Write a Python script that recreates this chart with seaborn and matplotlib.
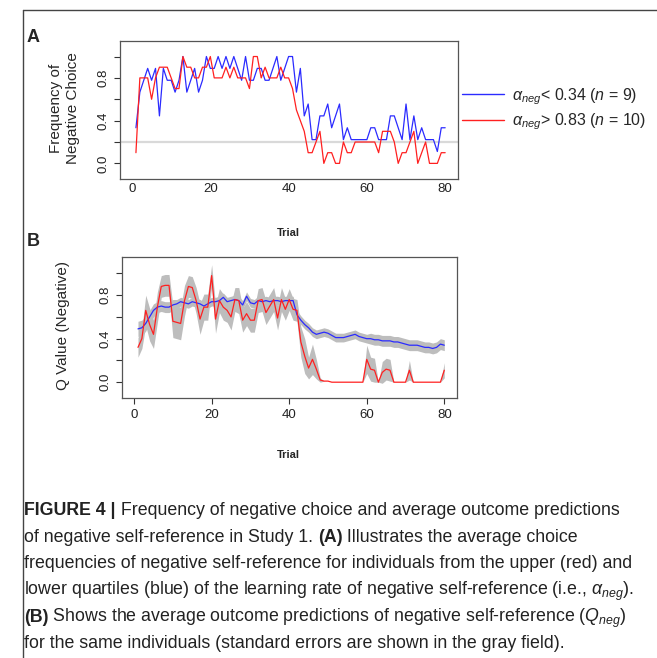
import numpy as np
import pandas as pd
import matplotlib
matplotlib.use("Agg")
import matplotlib.pyplot as plt
from matplotlib.lines import Line2D
import seaborn as sns

# ---- data ----
trials = np.arange(1, 81)

# Panel A: number of participants choosing negative (blue group n=9, red group n=10)
blue_count = [3, 6, 7, 8, 7, 8, 4, 8, 7, 7, 6, 7, 9, 6, 7, 8, 6, 7, 9, 8,
              8, 9, 8, 9, 8, 9, 8, 7, 9, 7, 7, 8, 8, 7, 7, 8, 9, 7, 8, 9,
              9, 6, 8, 4, 5, 2, 2, 4, 4, 5, 3, 4, 5, 2, 3, 2, 2, 2, 2, 2,
              3, 3, 2, 2, 2, 4, 4, 3, 2, 5, 2, 4, 2, 3, 2, 2, 2, 1, 3, 3]
red_count = [1, 8, 8, 8, 6, 8, 9, 9, 9, 8, 7, 7, 10, 9, 9, 8, 8, 9, 9, 10,
             8, 8, 8, 9, 8, 9, 8, 8, 8, 7, 10, 10, 8, 9, 8, 8, 8, 9, 8, 8,
             7, 5, 4, 3, 1, 1, 2, 3, 0, 1, 1, 0, 0, 2, 1, 1, 2, 2, 2, 2,
             2, 2, 1, 3, 3, 3, 2, 0, 1, 1, 2, 3, 0, 1, 2, 0, 0, 0, 1, 1]
n_blue, n_red = 9, 10
chance_level = 0.2

# Panel B: mean Q value and standard error
blue_q = [0.49, 0.50, 0.54, 0.60, 0.66, 0.69, 0.70, 0.69, 0.69, 0.71,
          0.72, 0.74, 0.73, 0.72, 0.74, 0.73, 0.72, 0.70, 0.72, 0.74,
          0.74, 0.75, 0.78, 0.74, 0.75, 0.76, 0.75, 0.71, 0.79, 0.73,
          0.72, 0.75, 0.74, 0.75, 0.74, 0.75, 0.75, 0.74, 0.75, 0.75,
          0.75, 0.62, 0.57, 0.53, 0.50, 0.46, 0.44, 0.45, 0.46, 0.45,
          0.43, 0.41, 0.41, 0.41, 0.42, 0.43, 0.44, 0.42, 0.41, 0.40,
          0.40, 0.39, 0.39, 0.38, 0.38, 0.38, 0.37, 0.37, 0.36, 0.35,
          0.34, 0.34, 0.34, 0.33, 0.32, 0.32, 0.31, 0.32, 0.35, 0.34]
blue_se = [0.07, 0.07, 0.07, 0.06, 0.06, 0.05, 0.05, 0.05, 0.05, 0.05,
           0.04, 0.04, 0.04, 0.04, 0.04, 0.04, 0.04, 0.04, 0.04, 0.04,
           0.04, 0.04, 0.04, 0.04, 0.04, 0.04, 0.04, 0.04, 0.04, 0.04,
           0.04, 0.04, 0.04, 0.04, 0.04, 0.04, 0.04, 0.04, 0.04, 0.04,
           0.04, 0.04, 0.04, 0.04, 0.04, 0.04, 0.04, 0.04, 0.04, 0.04,
           0.04, 0.04, 0.04, 0.04, 0.04, 0.04, 0.04, 0.04, 0.04, 0.04,
           0.05, 0.05, 0.05, 0.05, 0.05, 0.05, 0.05, 0.05, 0.05, 0.05,
           0.05, 0.05, 0.05, 0.05, 0.05, 0.05, 0.05, 0.05, 0.05, 0.05]
red_q = [0.32, 0.40, 0.66, 0.53, 0.44, 0.69, 0.88, 0.89, 0.89, 0.56,
         0.55, 0.54, 0.75, 0.88, 0.87, 0.75, 0.58, 0.69, 0.69, 0.98,
         0.58, 0.75, 0.69, 0.66, 0.60, 0.76, 0.75, 0.57, 0.63, 0.57,
         0.57, 0.75, 0.76, 0.64, 0.70, 0.76, 0.59, 0.76, 0.67, 0.76,
         0.67, 0.66, 0.37, 0.24, 0.13, 0.21, 0.12, 0.02, 0.01, 0.01,
         0.0, 0.0, 0.0, 0.0, 0.0, 0.0, 0.0, 0.0, 0.0, 0.21,
         0.12, 0.11, 0.0, 0.09, 0.12, 0.11, 0.0, 0.0, 0.0, 0.0,
         0.11, 0.0, 0.0, 0.0, 0.0, 0.0, 0.0, 0.0, 0.0, 0.11]
red_se = [0.09, 0.09, 0.14, 0.15, 0.13, 0.14, 0.10, 0.10, 0.10, 0.15,
          0.15, 0.15, 0.14, 0.10, 0.10, 0.12, 0.14, 0.12, 0.12, 0.10,
          0.13, 0.11, 0.12, 0.11, 0.12, 0.11, 0.12, 0.11, 0.11, 0.11,
          0.11, 0.11, 0.11, 0.11, 0.11, 0.11, 0.11, 0.11, 0.10, 0.10,
          0.10, 0.10, 0.14, 0.16, 0.10, 0.14, 0.09, 0.02, 0.0, 0.0,
          0.0, 0.0, 0.0, 0.0, 0.0, 0.0, 0.0, 0.0, 0.0, 0.13,
          0.11, 0.11, 0.0, 0.10, 0.10, 0.10, 0.0, 0.0, 0.0, 0.0,
          0.09, 0.0, 0.0, 0.0, 0.0, 0.0, 0.0, 0.0, 0.0, 0.07]

legend_labels = [r"$\alpha_{neg}$< 0.34 ($n$ = 9)", r"$\alpha_{neg}$> 0.83 ($n$ = 10)"]

caption = [
    [("FIGURE 4 |", "bold"), (" Frequency of negative choice and average outcome predictions", "normal")],
    [("of negative self-reference in Study 1. ", "normal"), ("(A)", "bold"), (" Illustrates the average choice", "normal")],
    [("frequencies of negative self-reference for individuals from the upper (red) and", "normal")],
    [("lower quartiles (blue) of the learning rate of negative self-reference (i.e., $\\alpha_{neg}$).", "normal")],
    [("(B)", "bold"), (" Shows the average outcome predictions of negative self-reference ($Q_{neg}$)", "normal")],
    [("for the same individuals (standard errors are shown in the gray field).", "normal")],
]

BLUE = "#2b2bff"
RED = "#ff2020"
BAND = "#bdbdbd"

W, H = 657, 658
sns.set_style("white")
plt.rcParams["font.family"] = ["Liberation Sans", "DejaVu Sans"]
plt.rcParams["mathtext.fontset"] = "custom"
plt.rcParams["mathtext.rm"] = "Liberation Sans"
plt.rcParams["mathtext.it"] = "Liberation Sans:italic"
plt.rcParams["mathtext.bf"] = "Liberation Sans:bold"

fig = plt.figure(figsize=(W / 100, H / 100), dpi=100)


def px_axes(left, top, right, bottom):
    return fig.add_axes([left / W, 1 - bottom / H, (right - left) / W, (bottom - top) / H])


def style_axes(ax):
    ax.set_xlim(-3.2, 83.2)
    ax.set_ylim(-0.148, 1.148)
    ax.set_xticks([0, 20, 40, 60, 80])
    ax.set_yticks([0, 0.2, 0.4, 0.6, 0.8, 1.0])
    ax.set_yticklabels(["0.0", "", "0.4", "", "0.8", ""], rotation=90, va="center")
    ax.tick_params(axis="both", direction="out", length=4.5, width=0.8, color="#333333",
                   labelsize=9.5, labelcolor="#222222", pad=3, left=True, bottom=True)
    for s in ax.spines.values():
        s.set_color("#555555")
        s.set_linewidth(0.9)
    ax.set_xlabel("")
    ax.set_ylabel("")


df_a = pd.DataFrame({
    "trial": np.concatenate([trials, trials]),
    "freq": np.concatenate([np.array(blue_count) / n_blue, np.array(red_count) / n_red]),
    "group": [legend_labels[0]] * 80 + [legend_labels[1]] * 80,
})

# ---- Panel A ----
axA = px_axes(119.5, 40.7, 457.7, 179.2)
axA.axhline(chance_level, color="#d9d9d9", lw=1.6, zorder=0)
sns.lineplot(data=df_a, x="trial", y="freq", hue="group",
             palette=[BLUE, RED], linewidth=0.9, ax=axA, legend=False)
style_axes(axA)
axA.tick_params(axis="x", length=0)

handles = [Line2D([], [], color=BLUE, lw=1.0), Line2D([], [], color=RED, lw=1.0)]
fig.legend(handles, legend_labels, loc="upper left", bbox_to_anchor=(462 / W, 1 - 86 / H),
           frameon=False, fontsize=11.5, handlelength=2.6, handletextpad=0.5,
           labelspacing=0.3, borderaxespad=0, borderpad=0)

fig.text(56 / W, 1 - 108 / H, "Frequency of", rotation=90, ha="center", va="center", fontsize=11)
fig.text(73 / W, 1 - 108 / H, "Negative Choice", rotation=90, ha="center", va="center", fontsize=11)
fig.text(288 / W, 1 - 233 / H, "Trial", ha="center", va="center", fontsize=8, fontweight="bold")
fig.text(27 / W, 1 - 38 / H, "A", ha="left", va="center", fontsize=13, fontweight="bold")

# ---- Panel B ----
axB = px_axes(121.7, 257.3, 456.7, 398.3)
blue_q_a, blue_se_a = np.array(blue_q), np.array(blue_se)
red_q_a, red_se_a = np.array(red_q), np.array(red_se)
axB.fill_between(trials, blue_q_a - blue_se_a, blue_q_a + blue_se_a, color=BAND, lw=0, zorder=1)
axB.fill_between(trials, red_q_a - red_se_a, red_q_a + red_se_a, color=BAND, lw=0, zorder=1)
sns.lineplot(x=trials, y=blue_q_a, color=BLUE, linewidth=0.9, ax=axB, zorder=3)
sns.lineplot(x=trials, y=red_q_a, color=RED, linewidth=0.9, ax=axB, zorder=3)
style_axes(axB)

fig.text(63 / W, 1 - 325 / H, "Q Value (Negative)", rotation=90, ha="center", va="center", fontsize=11)
fig.text(288 / W, 1 - 455 / H, "Trial", ha="center", va="center", fontsize=8, fontweight="bold")
fig.text(27 / W, 1 - 242 / H, "B", ha="left", va="center", fontsize=13, fontweight="bold")

# ---- frame lines of the page layout ----
fig.add_artist(Line2D([23 / W, 23 / W], [0, 1 - 10 / H], color="#444444", lw=1.0))
fig.add_artist(Line2D([23 / W, 1], [1 - 10 / H, 1 - 10 / H], color="#444444", lw=1.0))

# ---- caption: size chosen so the third line spans the same width as in the figure ----
renderer = fig.canvas.get_renderer()
probe = fig.text(0, 0, caption[2][0][0], fontsize=10)
cap_size = 10 * 610 / probe.get_window_extent(renderer).width
probe.remove()

line_y = [515, 542, 568, 595, 622, 648]
for segs, y in zip(caption, line_y):
    x = 24
    for text, weight in segs:
        t = fig.text(x / W, 1 - y / H, text, fontsize=cap_size, fontweight=weight,
                     color="#222222", ha="left", va="baseline")
        x += t.get_window_extent(renderer).width

fig.savefig("out.png", dpi=100)
